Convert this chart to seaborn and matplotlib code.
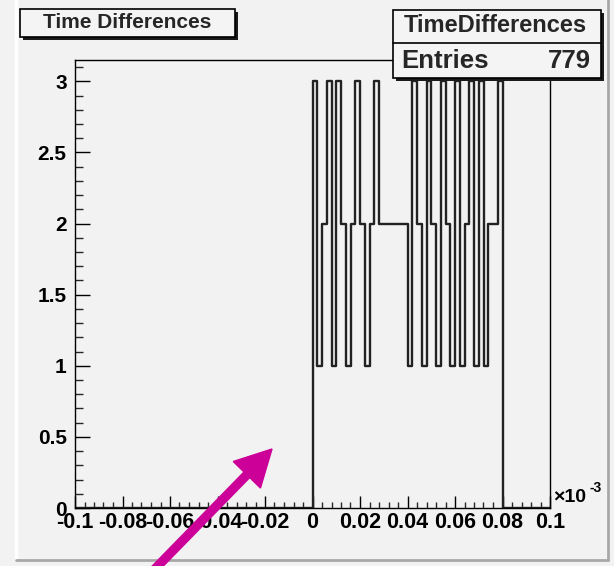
import numpy as np
import pandas as pd
import matplotlib
matplotlib.use("Agg")
import matplotlib.pyplot as plt
import seaborn as sns
from matplotlib.patches import Rectangle, FancyArrow
from matplotlib.lines import Line2D
from matplotlib.transforms import IdentityTransform
from matplotlib.ticker import MultipleLocator

# ---------------- data ----------------
x_min, x_max = -0.1, 0.1          # axis range (units of 1e-3)
n_bins = 100
counts_negative = [0] * 50         # bins from -0.1 to 0
counts_window = [3, 1, 2, 3, 1, 3, 2, 1, 2, 3,
                 2, 1, 2, 3, 2, 2, 2, 2, 2, 2,
                 1, 3, 2, 1, 3, 2, 1, 3, 2, 1,
                 3, 1, 2, 3, 1, 3, 1, 2, 2, 3]   # bins from 0 to 0.08
counts_tail = [0] * 10             # bins from 0.08 to 0.1
entries = 779
title_text = "Time Differences"
stats_name = "TimeDifferences"
x_ticks = [-0.1, -0.08, -0.06, -0.04, -0.02, 0, 0.02, 0.04, 0.06, 0.08, 0.1]
x_tick_labels = ["-0.1", "-0.08", "-0.06", "-0.04", "-0.02", "0",
                 "0.02", "0.04", "0.06", "0.08", "0.1"]
y_ticks = [0, 0.5, 1, 1.5, 2, 2.5, 3]
y_tick_labels = ["0", "0.5", "1", "1.5", "2", "2.5", "3"]
y_max = 3.15

counts = counts_negative + counts_window + counts_tail
edges = np.linspace(x_min, x_max, n_bins + 1)
centers = (edges[:-1] + edges[1:]) / 2
df = pd.DataFrame({"dt": centers, "n": counts})

# ---------------- style ----------------
sns.set_style("ticks")
BG = "#f2f2f2"
FONT = ["Liberation Sans", "DejaVu Sans"]
plt.rcParams["font.family"] = FONT
plt.rcParams["font.weight"] = "bold"

W, H = 614, 566
fig = plt.figure(figsize=(W / 100, H / 100), dpi=100, facecolor=BG)

def fx(px):
    return px / W

def fy(py):
    return 1 - py / H

ax = fig.add_axes([fx(75), fy(508), fx(550) - fx(75), fy(60) - fy(508)])
ax.set_facecolor(BG)

sns.histplot(data=df, x="dt", weights="n", binwidth=(x_max - x_min) / n_bins,
             binrange=(x_min, x_max), element="step",
             fill=False, color="#222222", linewidth=1.7, ax=ax)

ax.set_xlim(x_min, x_max)
ax.set_ylim(0, y_max)
ax.set_xlabel("")
ax.set_ylabel("")
ax.set_xticks(x_ticks)
ax.set_xticklabels(x_tick_labels)
ax.set_yticks(y_ticks)
ax.set_yticklabels(y_tick_labels)
ax.xaxis.set_minor_locator(MultipleLocator(0.004))
ax.yaxis.set_minor_locator(MultipleLocator(0.1))
ax.tick_params(axis="x", which="major", direction="in", length=9, width=1,
               pad=3, labelsize=15.5, colors="black")
ax.tick_params(axis="x", which="minor", direction="in", length=4.5, width=1)
ax.tick_params(axis="y", which="major", direction="in", length=11, width=1,
               pad=6, labelsize=15, colors="black")
ax.tick_params(axis="y", which="minor", direction="in", length=5.5, width=1)
for lab in ax.get_xticklabels() + ax.get_yticklabels():
    lab.set_fontweight("bold")
    lab.set_fontfamily(FONT)
for s in ax.spines.values():
    s.set_visible(True)
    s.set_color("black")
    s.set_linewidth(1.0)

# exponent label
fig.text(fx(553), fy(498), "\u00d710", fontsize=14, fontweight="bold",
         ha="left", va="center", color="black")
fig.text(fx(589), fy(488), "-3", fontsize=10, fontweight="bold",
         ha="left", va="center", color="black")

# ---------------- canvas bevel ----------------
fig.add_artist(Line2D([fx(16), fx(16)], [fy(0), fy(560)], color="white", lw=2.5))
fig.add_artist(Line2D([fx(16), fx(608)], [fy(560), fy(560)], color="#a8a8a8", lw=2))
fig.add_artist(Line2D([fx(608), fx(608)], [fy(0), fy(560)], color="#a8a8a8", lw=2))

# ---------------- title box ----------------
def box(x0, y0, x1, y1, shadow=3):
    fig.add_artist(Rectangle((fx(x0 + shadow), fy(y1 + shadow)),
                             fx(x1 - x0), fy(y0) - fy(y1),
                             transform=fig.transFigure, facecolor="#1a1a1a",
                             edgecolor="none", zorder=5))
    fig.add_artist(Rectangle((fx(x0), fy(y1)), fx(x1 - x0), fy(y0) - fy(y1),
                             transform=fig.transFigure, facecolor="#f4f4f4",
                             edgecolor="black", lw=1.2, zorder=6))

box(20, 9, 235, 37)
fig.text(fx(127), fy(23), title_text, fontsize=15, fontweight="bold",
         ha="center", va="center", zorder=7)

# ---------------- stats box ----------------
box(393, 10, 601, 78)
fig.add_artist(Line2D([fx(393), fx(601)], [fy(43), fy(43)], color="black",
                      lw=1.2, zorder=7))
fig.text(fx(495), fy(26), stats_name, fontsize=17, fontweight="bold",
         ha="center", va="center", zorder=7)
fig.text(fx(401), fy(61), "Entries", fontsize=18.5, fontweight="bold",
         ha="left", va="center", zorder=7)
fig.text(fx(591), fy(61), f"{entries}", fontsize=18.5, fontweight="bold",
         ha="right", va="center", zorder=7)

# ---------------- magenta arrow ----------------
tail = (150, H + 8)
tip = (272, 449)
arrow = FancyArrow(tail[0], H - tail[1], tip[0] - tail[0], tail[1] - tip[1],
                   width=8, head_width=38, head_length=36,
                   length_includes_head=True, color="#cc0099",
                   transform=IdentityTransform(), zorder=10)
fig.add_artist(arrow)

fig.savefig("out.png", dpi=100, facecolor=BG)
